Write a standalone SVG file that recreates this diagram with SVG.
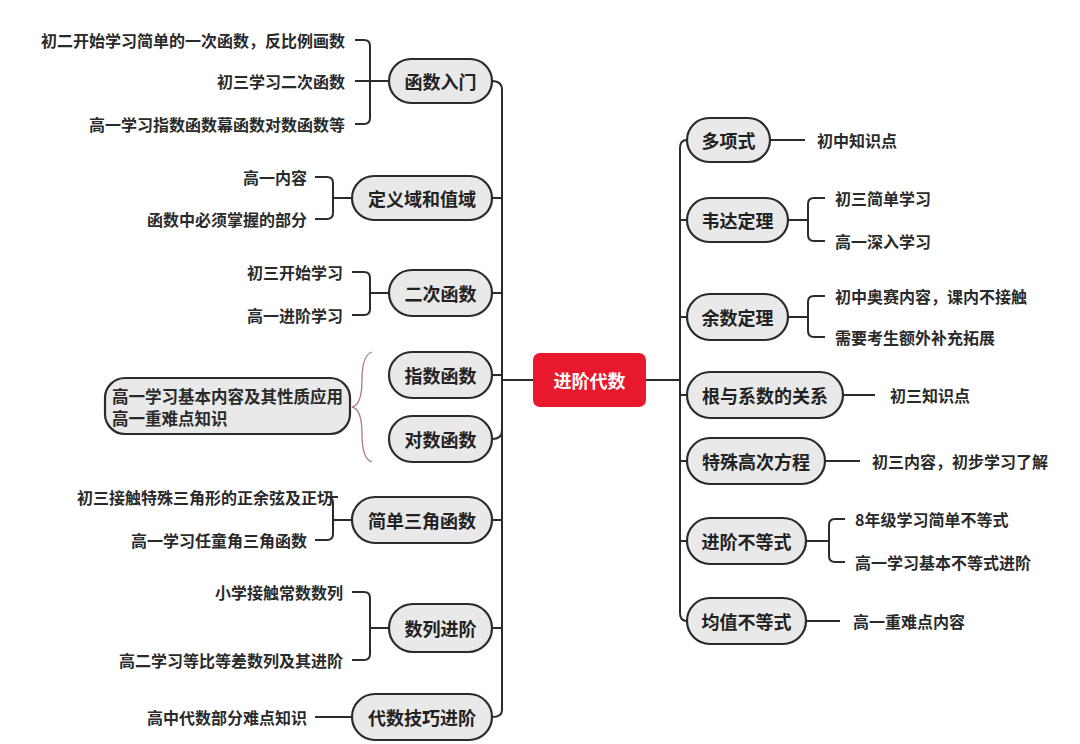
<svg xmlns="http://www.w3.org/2000/svg" width="1080" height="744" viewBox="0 0 1080 744">
<style>
.n{fill:#e9e9e9;stroke:#2b2b2b;stroke-width:2.2}
.nt{font-family:"Noto Sans CJK SC","Noto Sans",sans-serif;font-size:18px;font-weight:bold;fill:#222;text-anchor:middle;dominant-baseline:central}
.l{font-family:"Noto Sans CJK SC","Noto Sans",sans-serif;font-size:16px;font-weight:bold;fill:#2a2a2a;dominant-baseline:central}
.r{text-anchor:end}
.c{fill:none;stroke:#2b2b2b;stroke-width:2}
</style>
<rect width="1080" height="744" fill="#fff"/>
<g id="connectors">
<path class="c" d="M502 90V710M533 380H502M646 380H680M680 148V613"/>
<path class="c" d="M492 81Q502 81 502 90M492 198H502M492 293H502M492 375H502M492 439Q502 439 502 430M492 520H502M492 628H502M492 717Q502 717 502 710"/>
<path class="c" d="M687 140Q680 140 680 148M687 220H680M687 317H680M687 395H680M687 461H680M687 541H680M687 621Q680 621 680 613"/>
<path class="c" d="M355 40H364Q370 40 370 46V118Q370 124 364 124H355M355 81H389"/>
<path class="c" d="M315 177H327Q333 177 333 183V213Q333 219 327 219H315M333 198H352"/>
<path class="c" d="M352 272H364Q370 272 370 278V309Q370 315 364 315H352M370 293H389"/>
<path d="M372 352Q362 355 362 380Q362 405 352 407Q362 409 362 434Q362 459 372 462" fill="none" stroke="#b07a7a" stroke-width="1.3"/>
<path class="c" d="M338 497H327Q333 497 333 503V534Q333 540 327 540H315M333 520H352"/>
<path class="c" d="M352 592H364Q370 592 370 598V654Q370 660 364 660H352M370 628H389"/>
<path class="c" d="M315 717H352"/>
<path class="c" d="M770 140H805"/>
<path class="c" d="M788 220H808M825 198H814Q808 198 808 204V235Q808 241 814 241H825"/>
<path class="c" d="M788 317H808M825 296H814Q808 296 808 302V331Q808 337 814 337H825"/>
<path class="c" d="M843 395H875"/>
<path class="c" d="M825 461H860"/>
<path class="c" d="M806 541H829M845 519H835Q829 519 829 525V556Q829 562 835 562H845"/>
<path class="c" d="M806 621H840"/>
</g>
<g id="center"><rect x="533" y="353" width="113" height="54" rx="7" fill="#e8192c"/><text class="nt" x="589.5" y="380" style="fill:#fff">进阶代数</text></g>
<g id="n1"><rect class="n" x="389" y="59" width="103" height="44" rx="22"/><text class="nt" x="440.5" y="81">函数入门</text></g>
<g id="n2"><rect class="n" x="352" y="176" width="140" height="44" rx="22"/><text class="nt" x="422" y="198">定义域和值域</text></g>
<g id="n3"><rect class="n" x="389" y="270" width="103" height="46" rx="23"/><text class="nt" x="440.5" y="293">二次函数</text></g>
<g id="n4"><rect class="n" x="389" y="352" width="103" height="46" rx="23"/><text class="nt" x="440.5" y="375">指数函数</text></g>
<g id="n5"><rect class="n" x="389" y="416" width="103" height="46" rx="23"/><text class="nt" x="440.5" y="439">对数函数</text></g>
<g id="n6"><rect class="n" x="352" y="497" width="140" height="46" rx="23"/><text class="nt" x="422" y="520">简单三角函数</text></g>
<g id="n7"><rect class="n" x="389" y="604" width="103" height="48" rx="24"/><text class="nt" x="440.5" y="628">数列进阶</text></g>
<g id="n8"><rect class="n" x="352" y="694" width="140" height="46" rx="23"/><text class="nt" x="422" y="717">代数技巧进阶</text></g>
<g id="n9"><rect class="n" x="105" y="378" width="245" height="56" rx="20"/><text class="l" x="112" y="396" style="font-size:16.5px">高一学习基本内容及其性质应用</text><text class="l" x="112" y="418" style="font-size:16.5px">高一重难点知识</text></g>
<g id="leavesL">
<text class="l r" x="345" y="40">初二开始学习简单的一次函数，反比例画数</text>
<text class="l r" x="345" y="81">初三学习二次函数</text>
<text class="l r" x="345" y="124">高一学习指数函数幕函数对数函数等</text>
<text class="l r" x="307" y="177">高一内容</text>
<text class="l r" x="307" y="219">函数中必须掌握的部分</text>
<text class="l r" x="343" y="272">初三开始学习</text>
<text class="l r" x="343" y="315">高一进阶学习</text>
<text class="l r" x="333" y="497">初三接触特殊三角形的正余弦及正切</text>
<text class="l r" x="307" y="540">高一学习任童角三角函数</text>
<text class="l r" x="343" y="592">小学接触常数数列</text>
<text class="l r" x="343" y="660">高二学习等比等差数列及其进阶</text>
<text class="l r" x="307" y="717">高中代数部分难点知识</text>
</g>
<g id="r1"><rect class="n" x="687" y="118" width="83" height="44" rx="22"/><text class="nt" x="728.5" y="140">多项式</text></g>
<g id="r2"><rect class="n" x="687" y="198" width="101" height="44" rx="22"/><text class="nt" x="737.5" y="220">韦达定理</text></g>
<g id="r3"><rect class="n" x="687" y="294" width="101" height="46" rx="23"/><text class="nt" x="737.5" y="317">余数定理</text></g>
<g id="r4"><rect class="n" x="687" y="372" width="156" height="46" rx="23"/><text class="nt" x="765" y="395">根与系数的关系</text></g>
<g id="r5"><rect class="n" x="687" y="438" width="138" height="46" rx="23"/><text class="nt" x="756" y="461">特殊高次方程</text></g>
<g id="r6"><rect class="n" x="687" y="518" width="119" height="46" rx="23"/><text class="nt" x="746.5" y="541">进阶不等式</text></g>
<g id="r7"><rect class="n" x="687" y="598" width="119" height="46" rx="23"/><text class="nt" x="746.5" y="621">均值不等式</text></g>
<g id="leavesR">
<text class="l" x="817" y="140">初中知识点</text>
<text class="l" x="835" y="198">初三简单学习</text>
<text class="l" x="835" y="241">高一深入学习</text>
<text class="l" x="835" y="296">初中奥赛内容，课内不接触</text>
<text class="l" x="835" y="337">需要考生额外补充拓展</text>
<text class="l" x="890" y="395">初三知识点</text>
<text class="l" x="872" y="461">初三内容，初步学习了解</text>
<text class="l" x="855" y="519">8年级学习简单不等式</text>
<text class="l" x="855" y="562">高一学习基本不等式进阶</text>
<text class="l" x="853" y="621">高一重难点内容</text>
</g>
</svg>
